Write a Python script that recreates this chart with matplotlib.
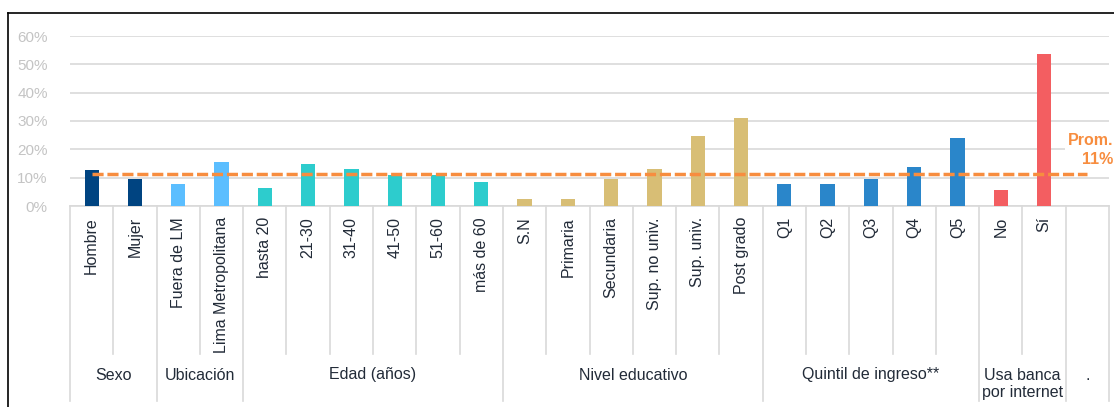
import matplotlib
matplotlib.use("Agg")
import matplotlib.pyplot as plt
from matplotlib.lines import Line2D

plt.rcParams["font.family"] = ["Liberation Sans", "DejaVu Sans"]

# data
categories = ["Hombre", "Mujer", "Fuera de LM", "Lima Metropolitana",
              "hasta 20", "21-30", "31-40", "41-50", "51-60", "más de 60",
              "S.N", "Primaria", "Secundaria", "Sup. no univ.", "Sup. univ.", "Post grado",
              "Q1", "Q2", "Q3", "Q4", "Q5", "No", "Sí"]
values = [12.6, 9.7, 7.7, 15.7,
          6.5, 15.0, 12.9, 11.1, 11.1, 8.5,
          2.4, 2.4, 9.7, 13.1, 24.7, 31.2,
          7.7, 7.7, 9.7, 13.8, 24.0, 5.5, 53.8]
groups = ["Sexo", "Ubicación", "Edad (años)", "Nivel educativo",
          "Quintil de ingreso**", "Usa banca\npor internet", "."]
group_sizes = [2, 2, 6, 6, 5, 2, 1]   # last group is an empty slot
group_colors = ["#004481", "#5BBEFF", "#2DCCCD", "#D8BE75", "#2A86CA", "#F35E61", None]
average = 11.2
yticks = [0, 10, 20, 30, 40, 50, 60]

W, H = 1114, 407
TEXT = "#222B38"
SEP = "#D9D9D9"

fig = plt.figure(figsize=(W / 100, H / 100), dpi=100)
ax = fig.add_axes([70 / W, 1 - 206 / H, 1039 / W, 170 / H])

bar_colors = []
for size, col in zip(group_sizes, group_colors):
    if col is not None:
        bar_colors += [col] * size

x = list(range(len(categories)))
n_slots = sum(group_sizes)
ax.bar(x, values, width=0.33, color=bar_colors, zorder=3)
ax.plot([0, n_slots - 1], [average, average], color="#F78D3F", lw=2.5,
        dashes=(3.2, 1.1), dash_capstyle="butt", zorder=4)

ax.set_xlim(-0.5, n_slots - 0.5)
ax.set_ylim(0, 60)
ax.set_yticks(yticks)
ax.set_yticklabels([f"{t}%" for t in yticks], fontsize=11, color="#C4C4C4")
ax.grid(axis="y", color=SEP, lw=1.2, zorder=0)
ax.tick_params(axis="y", length=0, pad=16)
for s in ["top", "right", "left"]:
    ax.spines[s].set_visible(False)
ax.spines["bottom"].set_color(SEP)
ax.spines["bottom"].set_linewidth(1.2)

ax.set_xticks(x)
ax.set_xticklabels(categories, rotation=90, fontsize=11.5, color=TEXT, va="top")
ax.tick_params(axis="x", length=0, pad=8)

# separators and group labels below the axis
tr = ax.get_xaxis_transform()
short_end = -(354 - 206) / 170
long_end = -(401 - 206) / 170
start = -0.5
ax.plot([start, start], [0, long_end], transform=tr, color=SEP, lw=1.2, clip_on=False)
for g, size in zip(groups, group_sizes):
    for k in range(1, size):
        xs = start + k
        ax.plot([xs, xs], [0, short_end], transform=tr, color=SEP, lw=1.2, clip_on=False)
    end = start + size
    ax.plot([end, end], [0, long_end], transform=tr, color=SEP, lw=1.2, clip_on=False)
    y_px = 384 if "\n" in g else 375
    ax.text((start + end) / 2, -(y_px - 206) / 170, g, transform=tr, ha="center",
            va="center", fontsize=11.5, color=TEXT, linespacing=1.15)
    start = end

fig.text(1113 / W, 1 - 150 / H, "Prom.\n11%", ha="right", va="center",
         multialignment="right", fontsize=11.5, fontweight="bold", color="#F78D3F",
         linespacing=1.3, bbox=dict(facecolor="white", edgecolor="none", pad=1.5))

# outer frame
fig.add_artist(Line2D([8 / W, 8 / W], [0, 1 - 13 / H], color="black", lw=1.2))
fig.add_artist(Line2D([8 / W, 1], [1 - 13 / H, 1 - 13 / H], color="black", lw=1.2))

fig.savefig("out.png", dpi=100)
